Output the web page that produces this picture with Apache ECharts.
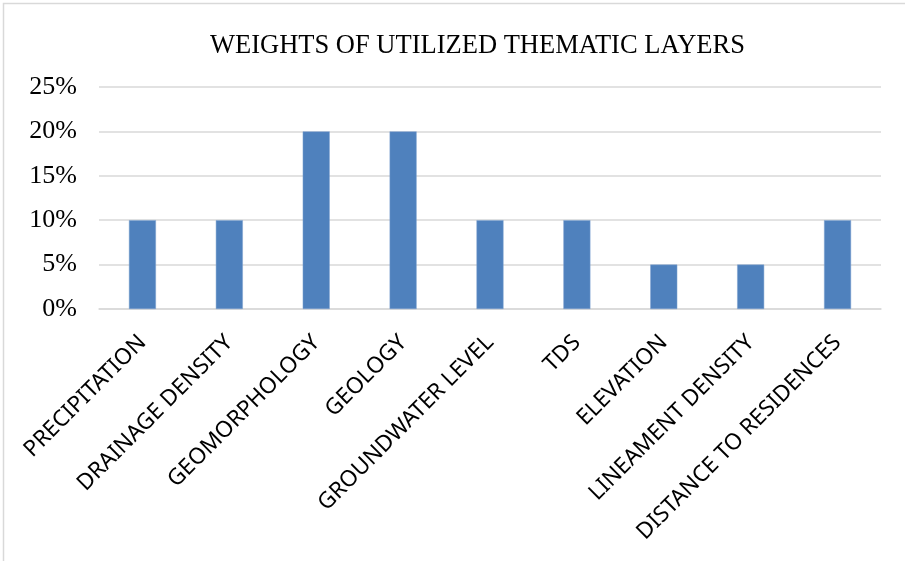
<!DOCTYPE html>
<html>
<head>
<meta charset="utf-8">
<script src="https://cdn.jsdelivr.net/npm/echarts@6/dist/echarts.min.js"></script>
<style>
  html, body { margin: 0; padding: 0; background: #fff; }
  #main { width: 905px; height: 561px; }
</style>
</head>
<body>
<div id="main"></div>
<script>
// categories and weights (%)
var layers = ['PRECIPITATION', 'DRAINAGE DENSITY', 'GEOMORPHOLOGY', 'GEOLOGY',
    'GROUNDWATER LEVEL', 'TDS', 'ELEVATION', 'LINEAMENT DENSITY', 'DISTANCE TO RESIDENCES'];
var weights = [10, 10, 20, 20, 10, 10, 5, 5, 10];
var yTicks = [0, 5, 10, 15, 20, 25];

var myChart = echarts.init(document.getElementById('main'));

option = {
    backgroundColor: '#fff',
    animation: false,
    title: {
        text: 'WEIGHTS OF UTILIZED THEMATIC LAYERS',
        left: 205,
        top: 28,
        textStyle: {
            fontFamily: 'Liberation Serif',
            fontWeight: 'normal',
            fontSize: 26.5,
            color: '#000'
        }
    },
    graphic: [{
        type: 'rect',
        shape: { x: 3.5, y: 3.5, width: 920, height: 600 },
        style: { fill: 'none', stroke: '#d9d9d9', lineWidth: 1.5 },
        silent: true
    }],
    grid: {
        left: 99,
        right: 24,
        top: 87,
        bottom: 252
    },
    xAxis: {
        type: 'category',
        data: layers,
        axisLine: { lineStyle: { color: '#d9d9d9', width: 1.5 } },
        axisTick: { show: false },
        axisLabel: {
            interval: 0,
            rotate: 45,
            margin: 30,
            fontFamily: 'Noto Sans',
            fontSize: 22.5,
            color: '#000'
        }
    },
    yAxis: {
        type: 'value',
        min: yTicks[0],
        max: yTicks[yTicks.length - 1],
        interval: 5,
        axisLine: { show: false },
        axisTick: { show: false },
        splitLine: { lineStyle: { color: '#d9d9d9', width: 1.5 } },
        axisLabel: {
            margin: 22,
            fontFamily: 'Liberation Serif',
            fontSize: 26,
            color: '#000',
            formatter: '{value}%'
        }
    },
    series: [
        {
            name: 'Weight',
            type: 'bar',
            data: weights,
            barWidth: 27,
            itemStyle: {
                color: '#4F81BD',
                borderColor: '#7FA3D0',
                borderWidth: 0.5
            }
        }
    ]
};
myChart.setOption(option);
</script>
</body>
</html>
